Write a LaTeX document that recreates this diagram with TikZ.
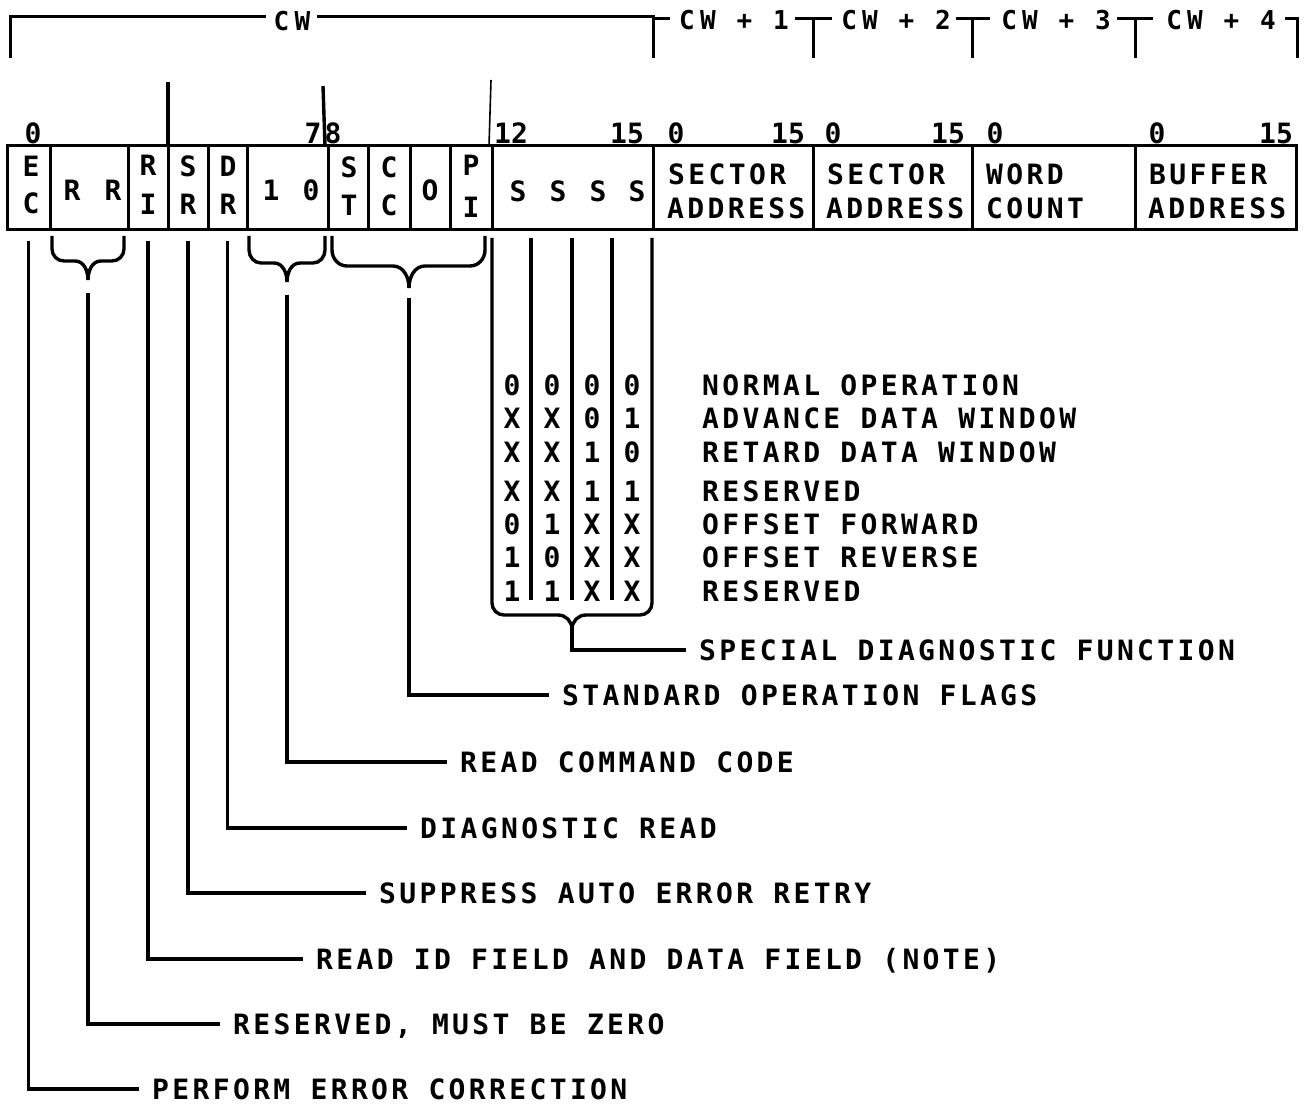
\documentclass[tikz,border=0pt]{standalone}
\usepackage{fontspec}
\newfontfamily\lgA[LetterSpace=12]{DejaVu Sans Mono Bold}
\newfontfamily\lgB{DejaVu Sans Mono Bold}
\newfontfamily\lgC[LetterSpace=20]{DejaVu Sans Mono Bold}
\begin{document}
\begin{tikzpicture}[x=1pt,y=-1pt,
  cell/.style={draw, line width=3pt, minimum height=84pt, inner sep=0pt},
  ch/.style={inner sep=0pt, font=\lgB\fontsize{28}{28}\selectfont},
  txt/.style={anchor=west, inner xsep=0pt, inner ysep=0pt, text height=20.4pt, text depth=0pt, font=\lgA\fontsize{28}{28}\selectfont},
  call/.style={txt, inner xsep=13pt},
  hdr/.style={inner sep=0pt, font=\lgC\fontsize{26}{26}\selectfont},
  num/.style={anchor=base, inner sep=0pt, font=\lgB\fontsize{28}{28}\selectfont},
  ln/.style={line width=3.4pt},
  thin/.style={line width=3pt}]
\useasboundingbox (0,0) rectangle (1306,1107);

% ---------- header brackets ----------
\node[hdr] (hcw) at (292,21) {CW};
\node[hdr] (h1) at (734,20) {CW + 1};
\node[hdr] (h2) at (896,20) {CW + 2};
\node[hdr] (h3) at (1056,20) {CW + 3};
\node[hdr] (h4) at (1221,20) {CW + 4};
\draw[thin] (10,58) -- (10,17) -- (266,17);
\draw[thin] (317,17) -- (653,17) -- (653,58);
\draw[thin] (653,19) -- (670,19);
\draw[thin] (795,19) -- (832,19);
\draw[thin] (813,19) -- (813,58);
\draw[thin] (956,19) -- (990,19);
\draw[thin] (972,19) -- (972,58);
\draw[thin] (1117,19) -- (1153,19);
\draw[thin] (1135,19) -- (1135,58);
\draw[thin] (1285,19) -- (1297,19) -- (1297,58);

% nibble marks
\draw[line width=3.4pt] (168,82) -- (168,146);
\draw[line width=3.4pt] (323,86) -- (325,146);
\draw[line width=1.6pt] (491,80) -- (489,146);

% ---------- bit numbers ----------
\node[num] (b0) at (33,144) {0};
\node[num] (b7) at (313,144) {7};
\node[num] (b8) at (333,144) {8};
\node[num] (b12) at (511,144) {12};
\node[num] (b15) at (627,144) {15};
\node[num] (c0a) at (676,144) {0};
\node[num] (c15a) at (788,144) {15};
\node[num] (c0b) at (833,144) {0};
\node[num] (c15b) at (948,144) {15};
\node[num] (c0c) at (995,144) {0};
\node[num] (c0d) at (1157,144) {0};
\node[num] (c15d) at (1276,144) {15};

% ---------- register cells ----------
\node[cell, minimum width=43pt] (ec) at (28.5,188) {};
\node[cell, minimum width=78pt] (rr) at (89,188) {};
\node[cell, minimum width=40pt] (ri) at (148,188) {};
\node[cell, minimum width=40pt] (sr) at (188,188) {};
\node[cell, minimum width=39pt] (dr) at (227.5,188) {};
\node[cell, minimum width=81pt] (cmd) at (287.5,188) {};
\node[cell, minimum width=40pt] (st) at (348,188) {};
\node[cell, minimum width=42pt] (cc) at (389,188) {};
\node[cell, minimum width=40pt] (o) at (430,188) {};
\node[cell, minimum width=42pt] (pi) at (471,188) {};
\node[cell, minimum width=161pt] (ss) at (572.5,188) {};
\node[cell, minimum width=160pt] (sa1) at (733,188) {};
\node[cell, minimum width=159pt] (sa2) at (892.5,188) {};
\node[cell, minimum width=163pt] (wc) at (1053.5,188) {};
\node[cell, minimum width=161pt] (ba) at (1215.5,188) {};

% cell letters
\node[ch] (tE) at (31,166) {E};   \node[ch] (tC) at (31,203) {C};
\node[ch] (tR1) at (72,190) {R};  \node[ch] (tR2) at (113,190) {R};
\node[ch] (tRa) at (148,165) {R}; \node[ch] (tIa) at (148,204) {I};
\node[ch] (tSb) at (188,166) {S}; \node[ch] (tRb) at (188,204) {R};
\node[ch] (tDc) at (228,166) {D}; \node[ch] (tRc) at (228,204) {R};
\node[ch] (t1) at (271,190) {1};  \node[ch] (t0) at (311,190) {0};
\node[ch] (tSd) at (349,167) {S}; \node[ch] (tTd) at (349,205) {T};
\node[ch] (tCe) at (389,167) {C}; \node[ch] (tCf) at (389,205) {C};
\node[ch] (tO) at (430,190) {O};
\node[ch] (tP) at (471,165) {P};  \node[ch] (tI) at (471,207) {I};
\node[ch] (tS1) at (518,191) {S}; \node[ch] (tS2) at (558,191) {S};
\node[ch] (tS3) at (598,191) {S}; \node[ch] (tS4) at (637,191) {S};
\node[txt] (sa1a) at (668,174) {SECTOR};
\node[txt] (sa1b) at (667,208) {ADDRESS};
\node[txt] (sa2a) at (827,174) {SECTOR};
\node[txt] (sa2b) at (826,208) {ADDRESS};
\node[txt] (wca) at (986,174) {WORD};
\node[txt] (wcb) at (986,208) {COUNT};
\node[txt] (baa) at (1149,174) {BUFFER};
\node[txt] (bab) at (1148,208) {ADDRESS};

% ---------- braces under the cells ----------
\coordinate (rrT) at (88,280);
\coordinate (cmdT) at (287,282);
\coordinate (flT) at (409,288);
\draw[ln] (52,236) -- (52,249) to[out=-90,in=180] (64,261) -- (75,261) to[out=0,in=90] (rrT);
\draw[ln] (124,236) -- (124,249) to[out=-90,in=0] (112,261) -- (101,261) to[out=180,in=90] (rrT);
\draw[ln] (249,236) -- (249,250) to[out=-90,in=180] (261,263) -- (274,263) to[out=0,in=90] (cmdT);
\draw[ln] (325,236) -- (325,250) to[out=-90,in=0] (313,263) -- (300,263) to[out=180,in=90] (cmdT);
\draw[ln] (332,236) -- (332,250) to[out=-90,in=180] (347,266) -- (393,266) to[out=0,in=90] (flT);
\draw[ln] (485,236) -- (485,250) to[out=-90,in=0] (470,266) -- (425,266) to[out=180,in=90] (flT);

% ---------- special diagnostic table ----------
\coordinate (ssT) at (572,629);
\draw[ln] (531,238) -- (531,600);
\draw[ln] (572,238) -- (572,600);
\draw[ln] (612,238) -- (612,600);
\draw[ln] (492,238) -- (492,603) to[out=-90,in=180] (504,615) -- (558,615) to[out=0,in=90] (ssT);
\draw[ln] (652,238) -- (652,603) to[out=-90,in=0] (640,615) -- (586,615) to[out=180,in=90] (ssT);

\foreach \yy/\a/\b/\c/\d [count=\r] in {385/0/0/0/0, 418/X/X/0/1, 452/X/X/1/0, 491/X/X/1/1, 524/0/1/X/X, 557/1/0/X/X, 591/1/1/X/X}{
  \node[ch] (v\r-1) at (512,\yy) {\a};
  \node[ch] (v\r-2) at (552,\yy) {\b};
  \node[ch] (v\r-3) at (592,\yy) {\c};
  \node[ch] (v\r-4) at (632,\yy) {\d};
}
\node[txt] (m1) at (702,385) {NORMAL OPERATION};
\node[txt] (m2) at (702,418) {ADVANCE DATA WINDOW};
\node[txt] (m3) at (702,452) {RETARD DATA WINDOW};
\node[txt] (m4) at (702,491) {RESERVED};
\node[txt] (m5) at (702,524) {OFFSET FORWARD};
\node[txt] (m6) at (702,557) {OFFSET REVERSE};
\node[txt] (m7) at (702,591) {RESERVED};

% ---------- callout labels ----------
\node[call] (kSDF) at (686,650) {SPECIAL DIAGNOSTIC FUNCTION};
\node[call] (kSOF) at (549,695) {STANDARD OPERATION FLAGS};
\node[call] (kRCC) at (447,762) {READ COMMAND CODE};
\node[call] (kDR) at (407,828) {DIAGNOSTIC READ};
\node[call] (kSAR) at (366,893) {SUPPRESS AUTO ERROR RETRY};
\node[call] (kRID) at (303,959) {READ ID FIELD AND DATA FIELD (NOTE)};
\node[call] (kRES) at (220,1024) {RESERVED, MUST BE ZERO};
\node[call] (kPEC) at (139,1089) {PERFORM ERROR CORRECTION};

\draw[ln] (ssT) |- (kSDF.west);
\draw[ln] ([yshift=-10pt]flT) |- (kSOF.west);
\draw[ln] ([yshift=-13pt]cmdT) |- (kRCC.west);
\draw[ln] ([yshift=-10pt]dr.south) |- (kDR.west);
\draw[ln] ([yshift=-10pt]sr.south) |- (kSAR.west);
\draw[ln] ([yshift=-10pt]ri.south) |- (kRID.west);
\draw[ln] ([yshift=-13pt]rrT) |- (kRES.west);
\draw[ln] ([yshift=-10pt]ec.south) |- (kPEC.west);
\end{tikzpicture}
\end{document}
